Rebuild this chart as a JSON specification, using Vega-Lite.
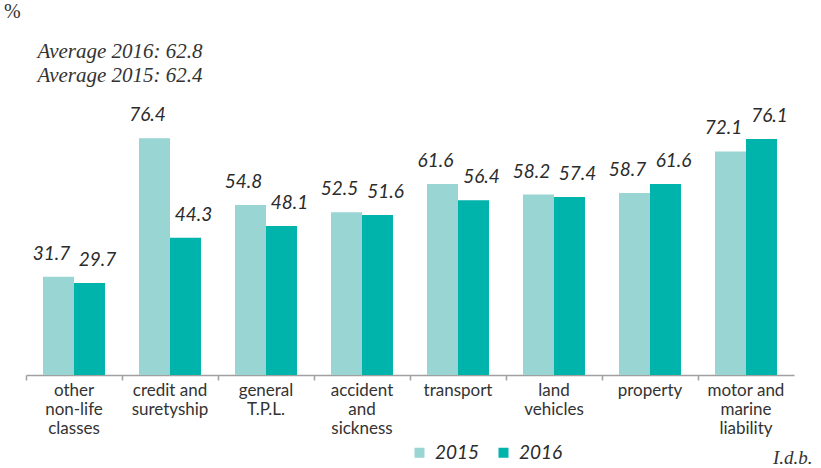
{
  "$schema": "https://vega.github.io/schema/vega-lite/v6.json",
  "width": 768,
  "height": 248,
  "autosize": {"type": "none"},
  "padding": {"left": 26, "right": 27, "top": 127, "bottom": 93},
  "background": "white",
  "config": {"view": {"stroke": null}},
  "title": {
    "text": "%",
    "anchor": "start",
    "frame": "group",
    "dx": -22,
    "offset": 18,
    "font": "Liberation Serif",
    "fontWeight": "normal",
    "fontSize": 20,
    "color": "#333333"
  },
  "data": {
    "values": [
      {"category": "other|non-life|classes", "year": "2015", "value": 31.7},
      {"category": "other|non-life|classes", "year": "2016", "value": 29.7},
      {"category": "credit and|suretyship", "year": "2015", "value": 76.4},
      {"category": "credit and|suretyship", "year": "2016", "value": 44.3},
      {"category": "general|T.P.L.", "year": "2015", "value": 54.8},
      {"category": "general|T.P.L.", "year": "2016", "value": 48.1},
      {"category": "accident|and|sickness", "year": "2015", "value": 52.5},
      {"category": "accident|and|sickness", "year": "2016", "value": 51.6},
      {"category": "transport", "year": "2015", "value": 61.6},
      {"category": "transport", "year": "2016", "value": 56.4},
      {"category": "land|vehicles", "year": "2015", "value": 58.2},
      {"category": "land|vehicles", "year": "2016", "value": 57.4},
      {"category": "property", "year": "2015", "value": 58.7},
      {"category": "property", "year": "2016", "value": 61.6},
      {"category": "motor and|marine|liability", "year": "2015", "value": 72.1},
      {"category": "motor and|marine|liability", "year": "2016", "value": 76.1}
    ]
  },
  "encoding": {
    "x": {
      "field": "category",
      "type": "nominal",
      "sort": null,
      "scale": {"paddingInner": 0, "paddingOuter": 0},
      "axis": {
        "title": "I.d.b.",
        "titleFont": "Liberation Serif",
        "titleFontStyle": "italic",
        "titleFontWeight": "normal",
        "titleFontSize": 19,
        "titleColor": "#333333",
        "titleAnchor": "end",
        "titleAlign": "right",
        "titleBaseline": "alphabetic",
        "titleX": 786,
        "titleY": 88,
        "labelExpr": "split(datum.value, '|')",
        "labelAngle": 0,
        "labelFont": "Lato",
        "labelFontSize": 17,
        "labelLineHeight": 19,
        "labelColor": "#333333",
        "labelPadding": 2,
        "labelBaseline": "top",
        "bandPosition": 0,
        "domainColor": "#a0a0a0",
        "domainWidth": 1.5,
        "tickColor": "#a0a0a0",
        "tickWidth": 1.5,
        "tickSize": 5,
        "grid": false
      }
    },
    "xOffset": {
      "field": "year",
      "type": "nominal",
      "scale": {"paddingInner": 0, "paddingOuter": 0.548}
    },
    "y": {
      "field": "value",
      "type": "quantitative",
      "scale": {"domain": [0, 80], "nice": false},
      "axis": {
        "title": ["Average 2016: 62.8", "Average 2015: 62.4"],
        "titleAngle": 0,
        "titleFont": "Liberation Serif",
        "titleFontStyle": "italic",
        "titleFontWeight": "normal",
        "titleFontSize": 21,
        "titleLineHeight": 24,
        "titleColor": "#333333",
        "titleAlign": "left",
        "titleBaseline": "alphabetic",
        "titleX": 11,
        "titleY": -70,
        "labels": false,
        "ticks": false,
        "domain": false,
        "grid": false
      }
    }
  },
  "layer": [
    {
      "mark": {"type": "bar"},
      "encoding": {
        "color": {
          "field": "year",
          "type": "nominal",
          "scale": {"domain": ["2015", "2016"], "range": ["#99d5d2", "#00b3ab"]},
          "legend": {
            "title": null,
            "orient": "none",
            "direction": "horizontal",
            "legendX": 384,
            "legendY": 316,
            "symbolType": "square",
            "symbolSize": 100,
            "symbolStrokeWidth": 0,
            "labelFont": "Lato",
            "labelFontStyle": "italic",
            "labelFontSize": 19,
            "labelColor": "#2b2b2b",
            "labelOffset": 6,
            "columnPadding": 14
          }
        }
      }
    },
    {
      "transform": [{"filter": "datum.year == '2015'"}],
      "mark": {"type": "text", "font": "Lato", "fontStyle": "italic", "fontSize": 19, "color": "#2b2b2b", "baseline": "alphabetic", "dy": -17, "dx": -7},
      "encoding": {"text": {"field": "value", "type": "quantitative", "format": ".1f"}}
    },
    {
      "transform": [{"filter": "datum.year == '2016'"}],
      "mark": {"type": "text", "font": "Lato", "fontStyle": "italic", "fontSize": 19, "color": "#2b2b2b", "baseline": "alphabetic", "dy": -17, "dx": 8},
      "encoding": {"text": {"field": "value", "type": "quantitative", "format": ".1f"}}
    }
  ]
}
